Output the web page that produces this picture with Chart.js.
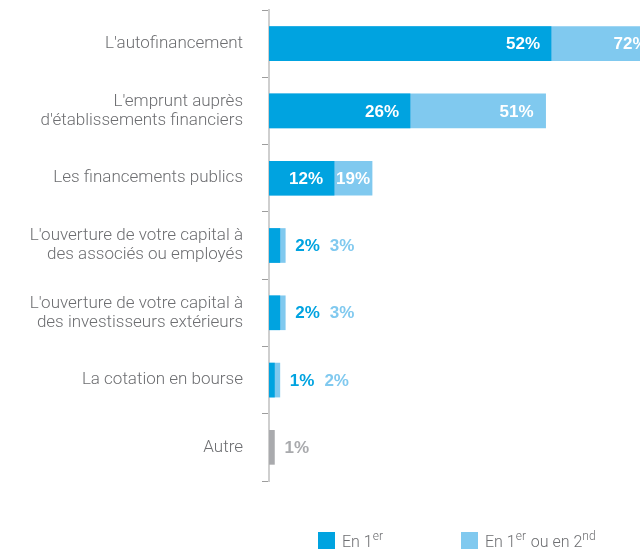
<!DOCTYPE html>
<html lang="fr">
<head>
<meta charset="utf-8">
<script src="https://cdn.jsdelivr.net/npm/chart.js@4"></script>
<style>
    html, body { margin: 0; padding: 0; background: #fff; }
    #wrap { width: 640px; height: 549px; }
</style>
</head>
<body>
<div id="wrap"><canvas id="chart"></canvas></div>
<script>
// ─────────────────────────────────────────────
// Data
// ─────────────────────────────────────────────
const CATEGORIES = [
    "L'autofinancement",
    ["L'emprunt auprès", "d'établissements financiers"],
    "Les financements publics",
    ["L'ouverture de votre capital à", "des associés ou employés"],
    ["L'ouverture de votre capital à", "des investisseurs extérieurs"],
    "La cotation en bourse",
    "Autre",
];
const FIRST           = [52, 26, 12, 2, 2, 1, 1];        // "En 1er"
const FIRST_OR_SECOND = [72, 51, 19, 3, 3, 2, null];     // "En 1er ou en 2nd"
const X_MAX = 68.4;

const DARK  = "#00a3e0";
const LIGHT = "#80c9ef";
const GREY  = "#a9aaad";
const TEXT  = "#6d6e71";

// last category ("Autre") is drawn in grey
const darkColors = FIRST.map((v, i) => i === FIRST.length - 1 ? GREY : DARK);

// ═══════════════════════════════════════════════
// VALUE LABELS — inside when they fit, else after the bar
// ═══════════════════════════════════════════════
const valueLabels = {
    id: "valueLabels",
    afterDatasetsDraw(chart) {
        const { ctx } = chart;
        const m0 = chart.getDatasetMeta(0);
        const m1 = chart.getDatasetMeta(1);
        const x0 = chart.scales.x.getPixelForValue(0);

        ctx.save();
        ctx.font = "bold 17px 'Liberation Sans', Arial, sans-serif";
        ctx.textBaseline = "middle";

        FIRST.forEach((v, i) => {
            const y = m0.data[i].y + 1;
            const darkEnd = m0.data[i].x;
            const second = FIRST_OR_SECOND[i];
            const lightEnd = second == null ? darkEnd : m1.data[i].x;
            const tD = v + "%";
            const wD = ctx.measureText(tD).width;

            if (darkEnd - x0 >= wD + 20) {
                ctx.fillStyle = "#fff";
                ctx.textAlign = "right";
                ctx.fillText(tD, darkEnd - 11, y);
                if (second != null) {
                    const tL = second + "%";
                    const wL = ctx.measureText(tL).width;
                    const seg = lightEnd - darkEnd;
                    if (seg >= wL + 20) {
                        ctx.fillText(tL, lightEnd - 12, y);
                    } else {
                        ctx.textAlign = "center";
                        ctx.fillText(tL, (darkEnd + lightEnd) / 2, y);
                    }
                }
            } else {
                let x = lightEnd + 10;
                ctx.textAlign = "left";
                ctx.fillStyle = second == null ? GREY : DARK;
                ctx.fillText(tD, x, y);
                if (second != null) {
                    x += wD + 10;
                    ctx.fillStyle = LIGHT;
                    ctx.fillText(second + "%", x, y);
                }
            }
        });
        ctx.restore();
    }
};

// ═══════════════════════════════════════════════
// LEGEND — custom, for the superscripts
// ═══════════════════════════════════════════════
const LEGEND_ITEMS = [
    { x: 318, color: DARK,  parts: [["En 1", false], ["er", true]] },
    { x: 461, color: LIGHT, parts: [["En 1", false], ["er", true], [" ou en 2", false], ["nd", true]] },
];

const supLegend = {
    id: "supLegend",
    afterDraw(chart) {
        const { ctx } = chart;
        const boxTop = 532, box = 17, baseline = 547;
        ctx.save();
        ctx.textBaseline = "alphabetic";
        ctx.textAlign = "left";
        LEGEND_ITEMS.forEach(item => {
            ctx.fillStyle = item.color;
            ctx.fillRect(item.x, boxTop, box, box);
            let x = item.x + box + 7;
            ctx.fillStyle = TEXT;
            item.parts.forEach(([txt, sup]) => {
                ctx.font = sup ? "300 12px Roboto, sans-serif" : "300 16px Roboto, sans-serif";
                ctx.fillText(txt, x, sup ? baseline - 7 : baseline);
                x += ctx.measureText(txt).width + (sup ? 1 : 0);
            });
        });
        ctx.restore();
    }
};

new Chart(document.getElementById("chart"), {
    type: "bar",
    data: {
        labels: CATEGORIES,
        datasets: [
            {
                label: "En 1er",
                data: FIRST,
                backgroundColor: darkColors,
                barThickness: 34,
                grouped: false,
            },
            {
                label: "En 1er ou en 2nd",
                data: FIRST_OR_SECOND,
                backgroundColor: LIGHT,
                barThickness: 34,
                grouped: false,
            },
        ]
    },
    options: {
        indexAxis: "y",
        responsive: true,
        maintainAspectRatio: false,
        animation: false,
        layout: { padding: { top: 10, bottom: 68, left: 0, right: 0 } },
        plugins: {
            legend: { display: false },
            tooltip: { enabled: false },
        },
        scales: {
            x: { display: false, min: 0, max: X_MAX },
            y: {
                grid: {
                    drawOnChartArea: false,
                    drawTicks: true,
                    tickLength: 7,
                    color: "#9d9d9d",
                    offset: true,
                },
                border: { display: true, color: "#cfcfcf", width: 2 },
                ticks: {
                    color: TEXT,
                    padding: 19,
                    font: { family: "Roboto", size: 17, weight: "300", lineHeight: 1.12 },
                },
                afterFit(scale) {
                    scale.width = 269;
                    scale.paddingTop = 0;
                    scale.paddingBottom = 0;
                },
            }
        }
    },
    plugins: [valueLabels, supLegend]
});
</script>
</body>
</html>
